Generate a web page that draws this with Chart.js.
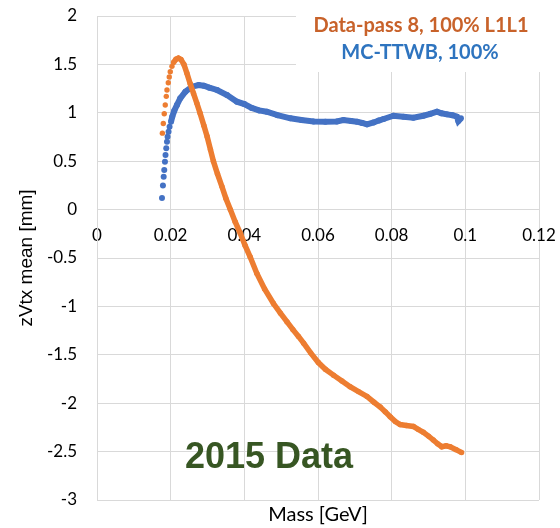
<!DOCTYPE html>
<html>
<head>
<meta charset="utf-8">
<script src="https://cdn.jsdelivr.net/npm/chart.js@4/dist/chart.umd.min.js"></script>
<style>
  html, body { margin: 0; padding: 0; background: #fff; }
  #wrap { width: 560px; height: 528px; position: relative; }
</style>
</head>
<body>
<div id="wrap"><canvas id="zvtxChart"></canvas></div>
<script>
// Data-pass 8, 100% L1L1 (orange)
const dataMass = [
  0.01775, 0.0180, 0.01826, 0.01853, 0.01881, 0.0190, 0.01935, 0.01962, 0.01989, 0.02035,
  0.02079, 0.02144, 0.0221, 0.0228, 0.0236, 0.0244, 0.0253, 0.0262, 0.0271, 0.0280,
  0.0290, 0.0299, 0.0308, 0.0316, 0.0327, 0.0339, 0.0350, 0.0362, 0.0375, 0.0389,
  0.0402, 0.0416, 0.0434, 0.0455, 0.0479, 0.0498, 0.0516, 0.0532, 0.0547, 0.0561,
  0.0580, 0.0601, 0.0620, 0.0642, 0.0665, 0.0687, 0.0710, 0.0733, 0.0752, 0.0769,
  0.0783, 0.0796, 0.0810, 0.0823, 0.0840, 0.0859, 0.0872, 0.0886, 0.0900, 0.0913,
  0.0925, 0.0936, 0.0948, 0.0959, 0.0975, 0.0990
];
const dataZ = [
  0.79, 0.89, 0.99, 1.08, 1.17, 1.235, 1.31, 1.37, 1.425, 1.48,
  1.52, 1.553, 1.565, 1.55, 1.50, 1.41, 1.30, 1.20, 1.10, 0.995,
  0.87, 0.755, 0.62, 0.50, 0.37, 0.24, 0.115, 0.0, -0.125, -0.245,
  -0.37, -0.49, -0.66, -0.82, -0.97, -1.07, -1.16, -1.24, -1.31, -1.38,
  -1.48, -1.58, -1.65, -1.71, -1.77, -1.83, -1.88, -1.93, -1.99, -2.04,
  -2.09, -2.14, -2.19, -2.22, -2.23, -2.24, -2.27, -2.30, -2.34, -2.38,
  -2.42, -2.45, -2.44, -2.45, -2.48, -2.51
];

// MC-TTWB, 100% (blue)
const mcMass = [
  0.01764, 0.0179, 0.0181, 0.01826, 0.01845, 0.0186, 0.0188, 0.0190, 0.01916, 0.01943,
  0.0197, 0.0201, 0.02043, 0.02098, 0.0217, 0.0226, 0.0240, 0.0258, 0.0276, 0.0290,
  0.0305, 0.0326, 0.0353, 0.0380, 0.0400, 0.0420, 0.0440, 0.0461, 0.0490, 0.0525,
  0.0555, 0.0588, 0.0620, 0.0651, 0.0669, 0.0690, 0.0706, 0.0720, 0.0733, 0.0751,
  0.0765, 0.0778, 0.0805, 0.0832, 0.0859, 0.0886, 0.0905, 0.0923, 0.0935, 0.0950,
  0.0965, 0.0977, 0.0981, 0.0988
];
const mcZ = [
  0.12, 0.25, 0.34, 0.41, 0.495, 0.565, 0.633, 0.70, 0.753, 0.805,
  0.856, 0.908, 0.96, 1.022, 1.08, 1.15, 1.218, 1.27, 1.287, 1.28,
  1.26, 1.236, 1.184, 1.115, 1.09, 1.05, 1.025, 1.011, 0.975, 0.943,
  0.925, 0.91, 0.908, 0.91, 0.925, 0.915, 0.908, 0.895, 0.881, 0.90,
  0.92, 0.936, 0.97, 0.96, 0.95, 0.97, 0.99, 1.011, 0.995, 0.984,
  0.975, 0.96, 0.915, 0.943
];

const seriesLabels = ['Data-pass 8, 100% L1L1', 'MC-TTWB, 100%'];
const seriesColors = ['#ED7D31', '#4472C4'];
const labelColors = ['#C8622A', '#2E74BF'];
// leading points that show as separate dots (no joining line)
const sparseCount = [10, 11];

const xTicks = { min: 0, max: 0.12, step: 0.02 };
const yTicks = { min: -3, max: 2, step: 0.5 };

const gridColor = '#d9d9d9';
const tickFont = { family: 'Lato', size: 17 };

function toPoints(xs, ys) {
  return xs.map((x, i) => ({ x: x, y: ys[i] }));
}

// plain number labels: 2, 1.5, 0.1, 0.12
const plainNumber = (v) => String(+(+v).toFixed(4));

const overlay = {
  id: 'overlay',
  afterDraw(chart) {
    const ctx = chart.ctx;
    ctx.save();
    // legend box covers the grid in the top right
    ctx.fillStyle = '#fff';
    ctx.fillRect(296, 0, 264, 72);
    ctx.textAlign = 'center';
    ctx.textBaseline = 'alphabetic';
    ctx.font = 'bold 20px Lato';
    ctx.fillStyle = labelColors[0];
    ctx.fillText(seriesLabels[0], 421, 32);
    ctx.fillStyle = labelColors[1];
    ctx.fillText(seriesLabels[1], 420, 59);
    // year tag
    ctx.textAlign = 'left';
    ctx.font = 'bold 36px "Liberation Sans"';
    ctx.fillStyle = '#375623';
    ctx.fillText('2015 Data', 185, 468);
    ctx.restore();
  }
};

new Chart(document.getElementById('zvtxChart'), {
  type: 'scatter',
  data: {
    datasets: [
      {
        label: seriesLabels[0],
        data: toPoints(dataMass, dataZ),
        showLine: true,
        borderColor: seriesColors[0],
        backgroundColor: seriesColors[0],
        borderWidth: 5.5,
        pointRadius: 2.7,
        pointBorderWidth: 0,
        segment: {
          borderColor: (c) => c.p0DataIndex < sparseCount[0] ? 'transparent' : seriesColors[0]
        }
      },
      {
        label: seriesLabels[1],
        data: toPoints(mcMass, mcZ),
        showLine: true,
        borderColor: seriesColors[1],
        backgroundColor: seriesColors[1],
        borderWidth: 6,
        pointRadius: 3,
        pointBorderWidth: 0,
        segment: {
          borderColor: (c) => c.p0DataIndex < sparseCount[1] ? 'transparent' : seriesColors[1]
        }
      }
    ]
  },
  options: {
    responsive: true,
    maintainAspectRatio: false,
    animation: false,
    layout: { padding: { top: 16, right: 21, left: 0, bottom: 0 } },
    plugins: {
      legend: { display: false },
      tooltip: { enabled: false },
      title: {
        display: true,
        position: 'bottom',
        fullSize: false,
        text: 'Mass [GeV]',
        color: '#000',
        font: { family: 'Lato', size: 20, weight: 'normal', lineHeight: 1.1 },
        padding: { top: 4, bottom: 2 }
      }
    },
    scales: {
      x: {
        type: 'linear',
        position: { y: 0 },
        min: xTicks.min,
        max: xTicks.max,
        afterFit: (scale) => { scale.paddingLeft = 0; scale.paddingRight = 0; },
        ticks: {
          stepSize: xTicks.step,
          color: '#000',
          font: tickFont,
          padding: 16,
          maxRotation: 0,
          callback: plainNumber
        },
        grid: { color: gridColor, drawTicks: false, tickLength: 0 },
        border: { color: gridColor }
      },
      y: {
        type: 'linear',
        min: yTicks.min,
        max: yTicks.max,
        afterFit: (scale) => {
          scale.width = 97;
          scale.paddingTop = 0;
          scale.paddingBottom = 0;
        },
        ticks: {
          stepSize: yTicks.step,
          color: '#000',
          font: tickFont,
          padding: 20,
          callback: plainNumber
        },
        grid: { color: gridColor, drawTicks: false, tickLength: 0 },
        border: { color: gridColor },
        title: {
          display: true,
          text: 'zVtx mean [mm]',
          color: '#000',
          font: { family: 'Liberation Sans', size: 19 },
          padding: { top: 15, bottom: 0 }
        }
      }
    }
  },
  plugins: [overlay]
});
</script>
</body>
</html>
